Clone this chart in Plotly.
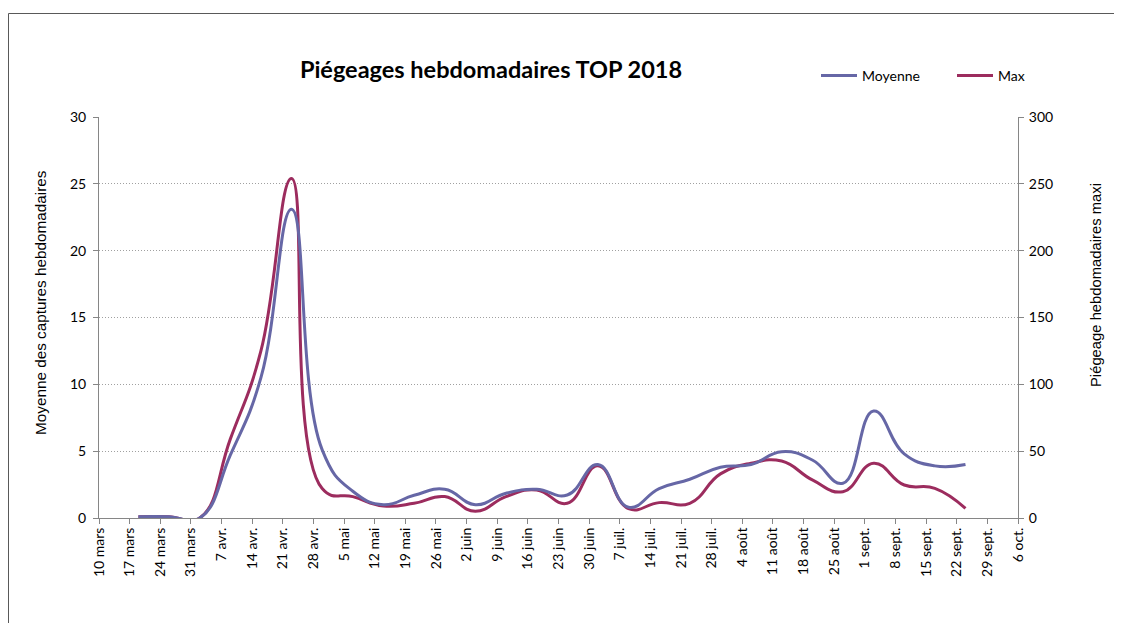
import plotly.graph_objects as go
import pandas as pd

# ---- data ----
dates = ["2018-03-19", "2018-03-26", "2018-04-02", "2018-04-09", "2018-04-16",
         "2018-04-23", "2018-04-30", "2018-05-07", "2018-05-14", "2018-05-21",
         "2018-05-28", "2018-06-04", "2018-06-11", "2018-06-18", "2018-06-25",
         "2018-07-02", "2018-07-09", "2018-07-16", "2018-07-23", "2018-07-30",
         "2018-08-06", "2018-08-13", "2018-08-20", "2018-08-27", "2018-09-03",
         "2018-09-10", "2018-09-17", "2018-09-24"]
moyenne = [0.1, 0.1, 0, 4.7, 10.5, 23.1, 5.1, 2.0, 1.0, 1.7,
           2.15, 1.0, 1.85, 2.15, 1.72, 4.0, 0.8, 2.2, 2.9, 3.8,
           4.0, 4.96, 4.34, 2.6, 8.0, 4.8, 3.9, 4.0]
maximum = [1, 1, 0, 59, 125, 254, 22, 16, 9, 11,
           16, 5, 16, 21, 11, 39, 7, 11.5, 11, 33,
           41, 42.6, 28.5, 19.7, 41, 24.7, 22.2, 7.2]

tick_labels = ["10 mars", "17 mars", "24 mars", "31 mars", "7 avr.", "14 avr.",
               "21 avr.", "28 avr.", "5 mai", "12 mai", "19 mai", "26 mai",
               "2 juin", "9 juin", "16 juin", "23 juin", "30 juin", "7 juil.",
               "14 juil.", "21 juil.", "28 juil.", "4 août", "11 août", "18 août",
               "25 août", "1 sept.", "8 sept.", "15 sept.", "22 sept.", "29 sept.",
               "6 oct."]
tick_vals = pd.date_range("2018-03-10", periods=len(tick_labels), freq="7D")

title_text = "Piégeages hebdomadaires TOP 2018"
y_left_title = "Moyenne des captures hebdomadaires"
y_right_title = "Piégeage hebdomadaires maxi"

COL_MOY = "#6667A6"
COL_MAX = "#9C2C5E"
GRID = "#A0A0A0"
AXIS = "#868686"
TXT = "#000000"

# page is rendered with an 8px body margin: work in figure coordinates
OFF = 8
W, H = 1122 - OFF, 623 - OFF
L, R, T, B = 99 - OFF, 1018 - OFF, 117 - OFF, 518 - OFF

fig = go.Figure()
# Max on primary y (right side); Moyenne on overlay y2 (left side) so it's drawn on top
fig.add_trace(go.Scatter(
    x=dates, y=maximum, name="Max", mode="lines", yaxis="y",
    line=dict(color=COL_MAX, width=3, shape="spline", smoothing=1.3),
    legendrank=2))
fig.add_trace(go.Scatter(
    x=dates, y=moyenne, name="Moyenne", mode="lines", yaxis="y2",
    line=dict(color=COL_MOY, width=3, shape="spline", smoothing=1.3),
    legendrank=1))

tick_font = dict(family="Lato, Carlito, sans-serif", size=14, color=TXT)


def px_x(p):
    return (p - OFF - L) / (R - L)


def px_y(p):
    return (B - (p - OFF)) / (B - T)


fig.update_layout(
    width=W, height=H,
    margin=dict(l=L, r=W - R, t=T, b=H - B, pad=0),
    paper_bgcolor="white", plot_bgcolor="white",
    showlegend=True,
    legend=dict(orientation="h", xref="container", yref="container",
                x=(822 - OFF - 6) / W, y=1 - (76 - OFF) / H,
                xanchor="left", yanchor="middle",
                font=dict(family="Lato, sans-serif", size=14, color=TXT),
                itemwidth=36, entrywidth=85, entrywidthmode="pixels",
                tracegroupgap=0, bgcolor="rgba(0,0,0,0)"),
    title=dict(text="<b>" + title_text + "</b>", xref="container", yref="container",
               x=(491 - OFF) / W, y=1 - (70 - OFF) / H, xanchor="center", yanchor="middle",
               font=dict(family="Lato, sans-serif", size=23.5, color=TXT)),
    xaxis=dict(type="date", range=["2018-03-10", "2018-10-06"],
               tickvals=tick_vals, ticktext=tick_labels, tickangle=-90,
               tickfont=tick_font, ticks="outside", ticklen=5, tickcolor=AXIS,
               ticklabelstandoff=-2,
               showline=True, linecolor=AXIS, linewidth=1, showgrid=False,
               zeroline=False, fixedrange=True),
    yaxis=dict(side="right", range=[0, 300], tickvals=[0, 50, 100, 150, 200, 250, 300],
               tickfont=tick_font, ticks="outside", ticklen=5, tickcolor=AXIS,
               ticklabelstandoff=2,
               showline=True, linecolor=AXIS, linewidth=1,
               showgrid=True, gridcolor=GRID, griddash="1px,2px", gridwidth=1,
               zeroline=False),
    yaxis2=dict(side="left", overlaying="y", range=[0, 30],
                tickvals=[0, 5, 10, 15, 20, 25, 30],
                tickfont=tick_font, ticks="outside", ticklen=5, tickcolor=AXIS,
                ticklabelstandoff=4,
                showline=True, linecolor=AXIS, linewidth=1,
                showgrid=False, zeroline=False),
    annotations=[
        dict(text=y_left_title, xref="paper", yref="paper", x=px_x(40), y=px_y(303),
             textangle=-90, showarrow=False, xanchor="center", yanchor="middle",
             font=dict(family="Liberation Sans, Arial, sans-serif", size=15.3, color=TXT)),
        dict(text=y_right_title, xref="paper", yref="paper", x=px_x(1096), y=px_y(285),
             textangle=-90, showarrow=False, xanchor="center", yanchor="middle",
             font=dict(family="Liberation Sans, Arial, sans-serif", size=14.8, color=TXT)),
    ],
    shapes=[
        dict(type="line", xref="paper", yref="paper", x0=px_x(8.5), x1=px_x(8.5),
             y0=px_y(13.5), y1=px_y(640), line=dict(color="#595959", width=1)),
        dict(type="line", xref="paper", yref="paper", x0=px_x(8.5), x1=px_x(1140),
             y0=px_y(13.5), y1=px_y(13.5), line=dict(color="#595959", width=1)),
    ],
)

fig.write_html("out.html")
